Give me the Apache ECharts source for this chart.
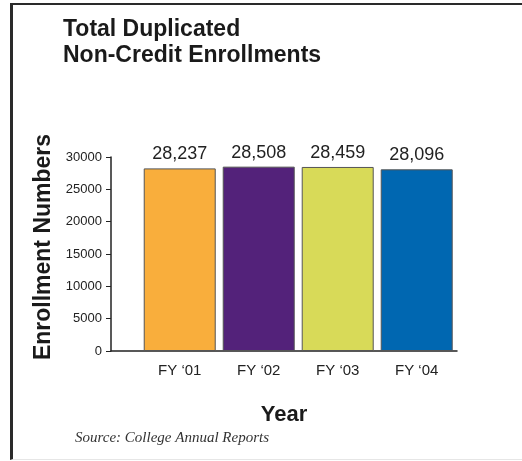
<!DOCTYPE html>
<html>
<head>
<meta charset="utf-8">
<script src="https://cdn.jsdelivr.net/npm/echarts@6/dist/echarts.min.js"></script>
<style>
    html, body { margin: 0; padding: 0; background: #fff; }
    #wrap { position: relative; width: 522px; height: 461px; }
    #chart { width: 522px; height: 461px; }
    #frame {
        position: absolute; left: 10px; top: 3px; right: 0; bottom: 1px;
        border-top: 2px solid #2a2a2a; border-left: 3px solid #2a2a2a;
        border-bottom: 1px solid #e6e6e6;
        pointer-events: none;
    }
</style>
</head>
<body>
<div id="wrap">
    <div id="chart"></div>
    <div id="frame"></div>
</div>
<script>
// data
const years = ['FY \u201801', 'FY \u201802', 'FY \u201803', 'FY \u201804']
const enrollments = [28237, 28508, 28459, 28096]
const barColors = ['#F9AE3C', '#53227A', '#D8DA58', '#0067B1']

const font = 'Liberation Sans, Arial, Helvetica, sans-serif'

let chart = echarts.init(document.getElementById('chart'))

let option = {
    animation: false,
    title: [
        {
            text: 'Total Duplicated\nNon-Credit Enrollments',
            left: 58,
            top: 12,
            textStyle: { fontFamily: font, fontSize: 23, fontWeight: 'bold', color: '#1a1a1a', lineHeight: 26 }
        },
        {
            text: 'Source: College Annual Reports',
            left: 70,
            top: 426,
            textStyle: { fontFamily: 'Liberation Serif, Times New Roman, serif', fontSize: 15, fontStyle: 'italic', fontWeight: 'normal', color: '#333' }
        }
    ],
    grid: {
        left: 111,
        right: 65,
        top: 157,
        bottom: 110
    },
    xAxis: {
        type: 'value',
        min: -0.87,
        max: 3.51,
        name: 'Year',
        nameLocation: 'middle',
        nameGap: 53,
        nameTextStyle: { fontFamily: font, fontSize: 22, fontWeight: 'bold', color: '#1a1a1a' },
        axisLine: { show: true, onZero: false, lineStyle: { color: '#222', width: 1.5 } },
        axisTick: { show: false },
        splitLine: { show: false },
        axisLabel: {
            customValues: [0, 1, 2, 3],
            formatter: (v) => years[Math.round(v)],
            fontFamily: font,
            fontSize: 15,
            color: '#222',
            margin: 12
        }
    },
    yAxis: {
        type: 'value',
        min: 0,
        max: 30000,
        interval: 5000,
        name: 'Enrollment Numbers',
        nameLocation: 'middle',
        nameRotate: 90,
        nameGap: 53,
        nameTextStyle: { fontFamily: font, fontSize: 23, fontWeight: 'bold', color: '#1a1a1a', padding: [0, 0, 0, 14] },
        axisLine: { show: true, onZero: false, lineStyle: { color: '#222', width: 1.5 } },
        axisTick: { show: true, length: 5, lineStyle: { color: '#222' } },
        splitLine: { show: false },
        axisLabel: { fontFamily: font, fontSize: 13, color: '#222', margin: 9, formatter: (v) => String(v) }
    },
    series: [
        {
            type: 'bar',
            barWidth: 72,
            data: enrollments.map((v, i) => ({
                value: [i, v],
                itemStyle: { color: barColors[i], borderColor: '#555', borderWidth: 1 }
            })),
            label: {
                show: true,
                position: 'top',
                distance: 5,
                fontFamily: font,
                fontSize: 18,
                color: '#222',
                formatter: (p) => p.value[1].toLocaleString('en-US')
            }
        }
    ]
}

chart.setOption(option)
</script>
</body>
</html>
